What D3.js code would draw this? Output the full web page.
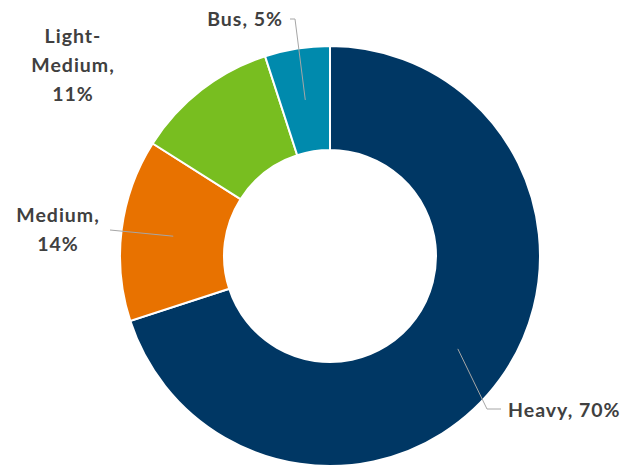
<!DOCTYPE html>
<html lang="en">
<head>
<meta charset="UTF-8">
<title>Vehicle class share</title>
<script src="https://d3js.org/d3.v7.min.js"></script>
<style>
  body { margin: 0; background: #fff; }
  text { font-family: Lato, "Open Sans", sans-serif; font-weight: bold; fill: #404040; letter-spacing: 1px; }
</style>
</head>
<body>
<div id="chart"></div>
<script>
// data
const categories = ['Heavy', 'Medium', 'Light-Medium', 'Bus'];
const shares = [70, 14, 11, 5];
const colors = ['#003764', '#E87200', '#78BE20', '#008AAD'];

const width = 632, height = 466;
const cx = 330, cy = 256;
const outerR = 210, innerR = 106;

const svg = d3.select('#chart').append('svg')
  .attr('width', width)
  .attr('height', height);

const g = svg.append('g').attr('transform', `translate(${cx},${cy})`);

const pie = d3.pie().sort(null).value(d => d.value);
const arcs = pie(categories.map((c, i) => ({ name: c, value: shares[i], color: colors[i] })));

const arc = d3.arc().innerRadius(innerR).outerRadius(outerR);
const midArc = d3.arc().innerRadius((innerR + outerR) / 2).outerRadius((innerR + outerR) / 2);

g.selectAll('path.slice')
  .data(arcs)
  .enter()
  .append('path')
  .attr('class', 'slice')
  .attr('d', arc)
  .attr('fill', d => d.data.color)
  .attr('stroke', '#fff')
  .attr('stroke-width', 2);

// label layout (offsets relative to chart centre)
const labelLayout = {
  'Heavy':        { lines: ['Heavy, 70%'], x: 178, y: 161, anchor: 'start', elbow: [[157, 153], [171, 153]] },
  'Medium':       { lines: ['Medium,', '14%'], x: -272, y: -34, anchor: 'middle', elbow: [[-220, -26]] },
  'Light-Medium': { lines: ['Light-', 'Medium,', '11%'], x: -257, y: -213, anchor: 'middle', elbow: null },
  'Bus':          { lines: ['Bus, 5%'], x: -47, y: -230, anchor: 'end', elbow: [[-35, -237], [-40, -237]] }
};

arcs.forEach(d => {
  const L = labelLayout[d.data.name];
  const pct = d.data.value + '%';
  const lines = L.lines.map(s => s.replace(/\d+%/, pct));
  if (L.elbow) {
    const c = midArc.centroid(d);
    const pts = [c].concat(L.elbow);
    g.append('path')
      .attr('d', d3.line()(pts))
      .attr('fill', 'none')
      .attr('stroke', '#A6A6A6')
      .attr('stroke-width', 1);
  }
  const t = g.append('text')
    .attr('x', L.x)
    .attr('y', L.y)
    .attr('text-anchor', L.anchor)
    .style('font-size', '19.5px');
  lines.forEach((s, i) => {
    t.append('tspan')
      .attr('x', L.x)
      .attr('dy', i === 0 ? 0 : 29)
      .text(s);
  });
});
</script>
</body>
</html>
